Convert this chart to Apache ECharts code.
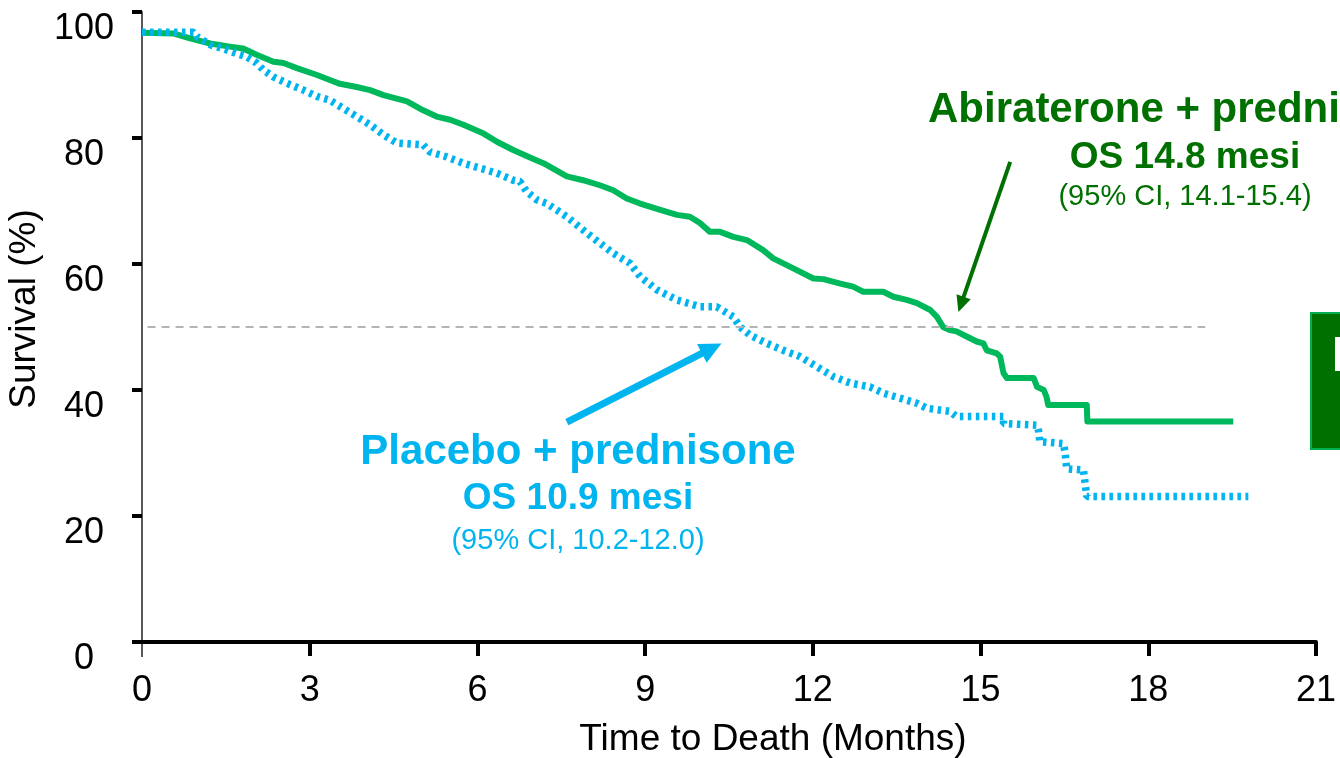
<!DOCTYPE html>
<html>
<head>
<meta charset="utf-8">
<script src="https://cdn.jsdelivr.net/npm/echarts@6/dist/echarts.min.js"></script>
<style>
  html, body { margin: 0; padding: 0; background: #ffffff; }
  #chart { width: 1340px; height: 758px; }
</style>
</head>
<body>
<div id="chart"></div>
<script>
// Tick values
const xTicks = [0, 3, 6, 9, 12, 15, 18, 21];
const yTicks = [0, 20, 40, 60, 80, 100];

// Abiraterone + prednisone: Kaplan-Meier overall survival (months, %)
const abiMonths = [0, 0.56, 0.86, 1.22, 1.57, 1.81, 2.05, 2.35, 2.53, 2.77, 3.13, 3.36, 3.54, 3.84, 4.08, 4.32, 4.74, 5.03, 5.27, 5.51, 5.75, 6.11, 6.35, 6.64, 6.94, 7.18, 7.60, 7.89, 8.19, 8.43, 8.67, 8.91, 9.27, 9.57, 9.80, 9.98, 10.16, 10.34, 10.58, 10.82, 11.11, 11.29, 11.65, 12.01, 12.19, 12.49, 12.72, 12.90, 13.26, 13.44, 13.68, 13.86, 14.10, 14.22, 14.33, 14.45, 14.57, 14.75, 14.93, 15.05, 15.11, 15.29, 15.35, 15.41, 15.47, 15.95, 16.01, 16.13, 16.18, 16.21, 16.90, 16.91, 19.52];
const abiSurv = [96.7, 96.6, 95.8, 95.0, 94.5, 94.2, 93.2, 92.1, 91.9, 91.1, 90.0, 89.2, 88.6, 88.1, 87.6, 86.8, 85.8, 84.4, 83.4, 82.9, 82.1, 80.7, 79.4, 78.1, 76.9, 76.0, 73.9, 73.3, 72.5, 71.7, 70.4, 69.6, 68.6, 67.8, 67.5, 66.5, 65.1, 65.1, 64.3, 63.8, 62.2, 60.9, 59.3, 57.7, 57.6, 56.9, 56.4, 55.6, 55.6, 54.8, 54.3, 53.8, 52.7, 51.6, 50.0, 49.5, 49.3, 48.5, 47.7, 47.4, 46.3, 45.8, 45.3, 42.7, 41.9, 41.9, 40.5, 40.0, 38.9, 37.6, 37.6, 35.0, 35.0];

// Placebo + prednisone
const plaMonths = [0, 0.92, 0.98, 1.22, 1.45, 1.69, 1.87, 2.05, 2.17, 2.35, 2.59, 2.89, 3.13, 3.36, 3.60, 3.84, 4.08, 4.32, 4.56, 5.03, 5.15, 5.45, 5.75, 6.05, 6.35, 6.64, 6.76, 6.88, 7.06, 7.24, 7.60, 7.96, 8.19, 8.43, 8.73, 8.91, 9.21, 9.57, 9.98, 10.28, 10.58, 10.70, 10.88, 11.18, 11.47, 11.77, 12.07, 12.37, 12.67, 13.02, 13.26, 13.56, 13.86, 14.04, 14.45, 14.57, 15.41, 15.41, 16.01, 16.04, 16.06, 16.48, 16.51, 16.54, 16.84, 16.87, 16.90, 19.79];
const plaSurv = [96.8, 96.8, 96.1, 94.8, 94.2, 93.4, 92.9, 91.9, 90.8, 89.7, 88.7, 87.6, 86.6, 86.0, 84.7, 83.4, 82.1, 80.5, 79.2, 78.9, 77.8, 77.0, 76.0, 75.2, 74.4, 73.3, 73.1, 71.5, 70.2, 69.6, 67.5, 64.9, 63.3, 61.7, 60.1, 58.0, 55.9, 54.3, 53.2, 53.2, 51.6, 50.0, 48.7, 47.4, 46.3, 45.3, 43.7, 42.1, 41.1, 40.5, 39.5, 38.7, 37.9, 37.1, 36.6, 35.8, 35.8, 34.7, 34.4, 33.4, 31.8, 31.5, 30.2, 27.5, 27.3, 25.2, 23.1, 23.1];

// Median reference level and the span it is drawn over
const medianLevel = 50;
const medianSpan = [0.1, 19.02];

// Annotation arrows: [tail, head] in (months, %)
const placeboArrow = [[7.60, 34.9], [10.19, 46.6]];
const abiArrow = [[15.53, 76.2], [14.65, 53.6]];

const FONT = "'Liberation Sans', Arial, sans-serif";
const GREEN_LINE = '#00B85C';
const GREEN_TEXT = '#007000';
const CYAN = '#00B4F0';

const zip = (xs, ys) => xs.map((x, i) => [x, ys[i]]);

const chart = echarts.init(document.getElementById('chart'), null, { renderer: 'canvas' });

const option = {
  animation: false,
  backgroundColor: '#ffffff',
  grid: { left: 142, right: 24, top: 12, bottom: 116, containLabel: false, outerBoundsMode: 'none' },
  xAxis: {
    type: 'value',
    min: 0,
    max: 21,
    interval: 3,
    name: 'Time to Death (Months)',
    nameLocation: 'middle',
    nameGap: 79,
    nameTextStyle: { fontFamily: FONT, fontSize: 37, color: '#000', padding: [0, 0, 0, 88] },
    axisLine: { onZero: false, lineStyle: { color: '#000', width: 4, cap: 'round' } },
    axisTick: { show: true, customValues: [3, 6, 9, 12, 15, 18, 21], length: 14, lineStyle: { color: '#000', width: 4 } },
    axisLabel: { customValues: xTicks, fontFamily: FONT, fontSize: 36, color: '#000', margin: 31 },
    splitLine: { show: false }
  },
  yAxis: {
    type: 'value',
    min: 0,
    max: 100,
    interval: 20,
    name: 'Survival (%)',
    nameLocation: 'middle',
    nameGap: 81,
    nameRotate: 90,
    nameTextStyle: { fontFamily: FONT, fontSize: 37, color: '#000', padding: [0, 0, 0, 36] },
    axisLine: { show: true, lineStyle: { color: '#595959', width: 2 } },
    axisTick: { show: true, customValues: yTicks, length: 10, lineStyle: { color: '#000', width: 4 } },
    axisLabel: {
      customValues: yTicks, fontFamily: FONT, fontSize: 36, color: '#000',
      margin: 58, align: 'center', verticalAlign: 'top', lineHeight: 34
    },
    splitLine: { show: false }
  },
  series: [
    {
      name: 'Abiraterone + prednisone',
      type: 'line',
      data: zip(abiMonths, abiSurv),
      showSymbol: false,
      symbol: 'none',
      lineStyle: { color: GREEN_LINE, width: 6, join: 'round' },
      z: 3,
      markLine: {
        silent: true,
        animation: false,
        label: { show: false },
        symbol: ['none', 'none'],
        data: [
          [
            { coord: [medianSpan[0], medianLevel], symbol: 'none', lineStyle: { color: '#B4B4B4', width: 2, type: [8, 6] } },
            { coord: [medianSpan[1], medianLevel], symbol: 'none' }
          ],
          [
            { coord: abiArrow[0], symbol: 'none', lineStyle: { color: GREEN_TEXT, width: 4, type: 'solid' } },
            { coord: abiArrow[1], symbol: 'triangle', symbolSize: [15, 16] }
          ]
        ]
      }
    },
    {
      name: 'Placebo + prednisone',
      type: 'line',
      data: zip(plaMonths, plaSurv),
      showSymbol: false,
      symbol: 'none',
      lineStyle: { color: CYAN, width: 7.5, type: [3.5, 4.5] },
      z: 4,
      markLine: {
        silent: true,
        animation: false,
        label: { show: false },
        symbol: ['none', 'none'],
        data: [
          [
            { coord: placeboArrow[0], symbol: 'none', lineStyle: { color: CYAN, width: 7, type: 'solid' } },
            { coord: placeboArrow[1], symbol: 'triangle', symbolSize: [21, 22] }
          ]
        ]
      }
    }
  ]
};

chart.setOption(option);

// Annotations, the right-hand badge, and the short extension of the y axis below the origin
const origin = chart.convertToPixel({ gridIndex: 0 }, [0, 0]);
chart.setOption({
  graphic: [
    { id: 'yExt', type: 'line', shape: { x1: origin[0], y1: origin[1], x2: origin[0], y2: origin[1] + 15 }, style: { stroke: '#595959', lineWidth: 2 } },
    { id: 'p1', type: 'text', x: 578, y: 452, style: { text: 'Placebo + prednisone', fill: CYAN, fontFamily: FONT, fontSize: 42, fontWeight: 'bold', align: 'center', verticalAlign: 'middle' } },
    { id: 'p2', type: 'text', x: 578, y: 499, style: { text: 'OS 10.9 mesi', fill: CYAN, fontFamily: FONT, fontSize: 37, fontWeight: 'bold', align: 'center', verticalAlign: 'middle' } },
    { id: 'p3', type: 'text', x: 578, y: 541, style: { text: '(95% CI, 10.2-12.0)', fill: CYAN, fontFamily: FONT, fontSize: 29, align: 'center', verticalAlign: 'middle' } },
    { id: 'a1', type: 'text', x: 1183, y: 110, style: { text: 'Abiraterone + prednisone', fill: GREEN_TEXT, fontFamily: FONT, fontSize: 42, fontWeight: 'bold', align: 'center', verticalAlign: 'middle' } },
    { id: 'a2', type: 'text', x: 1185, y: 158, style: { text: 'OS 14.8 mesi', fill: GREEN_TEXT, fontFamily: FONT, fontSize: 37, fontWeight: 'bold', align: 'center', verticalAlign: 'middle' } },
    { id: 'a3', type: 'text', x: 1185, y: 197, style: { text: '(95% CI, 14.1-15.4)', fill: GREEN_TEXT, fontFamily: FONT, fontSize: 29, align: 'center', verticalAlign: 'middle' } },
    { id: 'badge', type: 'rect', shape: { x: 1311, y: 313, width: 40, height: 136 }, style: { fill: '#007000', stroke: '#00B050', lineWidth: 2 } },
    { id: 'badgeMark', type: 'rect', shape: { x: 1335, y: 337, width: 10, height: 34 }, style: { fill: '#ffffff' } }
  ]
});
</script>
</body>
</html>
